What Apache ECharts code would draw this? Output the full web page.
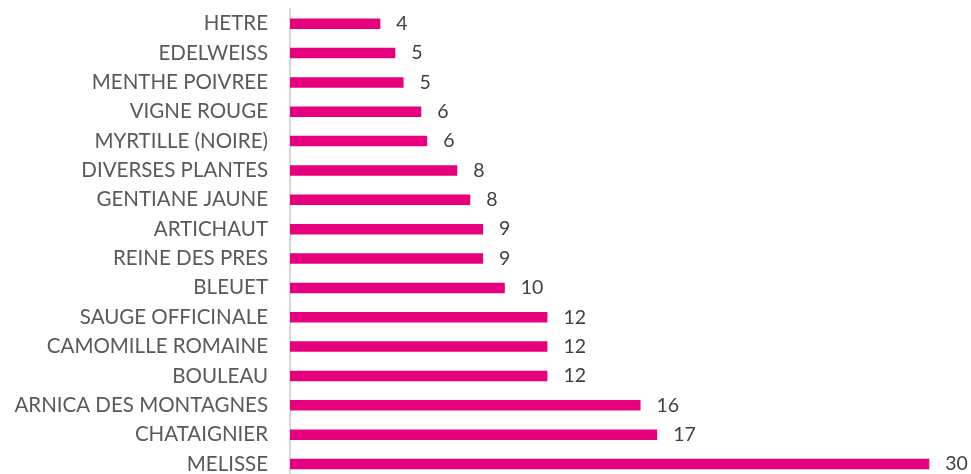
<!DOCTYPE html>
<html>
<head>
<meta charset="utf-8">
<script src="https://cdn.jsdelivr.net/npm/echarts@6/dist/echarts.min.js"></script>
<style>html,body{margin:0;padding:0;background:#fff;overflow:hidden}#c{width:971px;height:480px}</style>
</head>
<body>
<div id="c"></div>
<script>
const categories = ["HETRE","EDELWEISS","MENTHE POIVREE","VIGNE ROUGE","MYRTILLE (NOIRE)","DIVERSES PLANTES","GENTIANE JAUNE","ARTICHAUT","REINE DES PRES","BLEUET","SAUGE OFFICINALE","CAMOMILLE ROMAINE","BOULEAU","ARNICA DES MONTAGNES","CHATAIGNIER","MELISSE"];
const values = [4.24,4.94,5.33,6.16,6.44,7.85,8.46,9.06,9.06,10.08,12.08,12.08,12.08,16.45,17.23,30];

const chart = echarts.init(document.getElementById('c'));
chart.setOption({
  animation: false,
  grid: { left: 290, width: 639.3, top: 9, height: 469.7, containLabel: false },
  xAxis: { type: 'value', min: 0, max: 30, show: false, splitLine: { show: false } },
  yAxis: {
    type: 'category', data: categories, inverse: true,
    axisLine: { show: true, lineStyle: { color: '#D9D9D9', width: 2 } },
    axisTick: { show: false },
    axisLabel: { color: '#595959', fontFamily: 'Lato', fontSize: 20.5, margin: 22 }
  },
  series: [{
    type: 'bar', data: values, barWidth: 10.5,
    itemStyle: { color: '#E6007E' },
    label: { show: true, position: 'right', distance: 16, color: '#404040', fontFamily: 'Lato', fontSize: 19.5,
      formatter: p => Math.round(p.value) }
  }]
});
</script>
</body>
</html>
